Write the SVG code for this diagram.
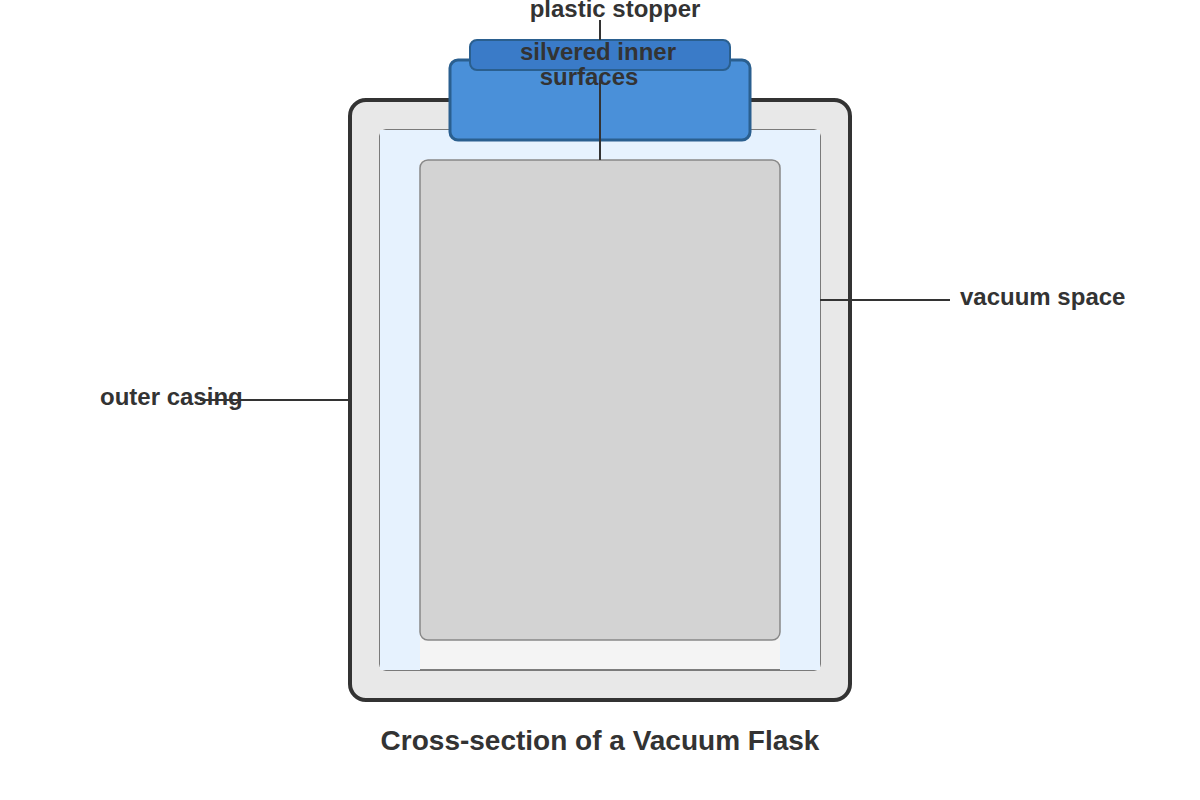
<svg xmlns="http://www.w3.org/2000/svg" width="1200" height="800" viewBox="0 0 1200 800">
<style>
.lbl{font-family:"Liberation Sans",Arial,sans-serif;font-weight:bold;font-size:24px;fill:#333}
.ln{stroke:#333;stroke-width:2;fill:none}
</style>
<rect width="1200" height="800" fill="#fff"/>
<g id="outer-casing"><rect x="350" y="100" width="500" height="600" rx="16" fill="#e8e8e8" stroke="#333" stroke-width="4"/></g>
<g id="inner-vessel"><rect x="380" y="130" width="440" height="540" rx="6" fill="#f4f4f4" stroke="#555" stroke-width="1.5"/></g>
<g id="vacuum-space" fill="#e6f2fe">
<rect x="380" y="130" width="40" height="540"/>
<rect x="780" y="130" width="40" height="540"/>
<rect x="380" y="130" width="440" height="30"/>
</g>
<g id="contents"><rect x="420" y="160" width="360" height="480" rx="8" fill="#d3d3d3" stroke="#888" stroke-width="1.5"/></g>
<g id="stopper">
<rect x="450" y="60" width="300" height="80" rx="8" fill="#4a90d9" stroke="#2a5f8f" stroke-width="3"/>
<rect x="470" y="40" width="260" height="30" rx="7" fill="#3a7bc8" stroke="#2a5f8f" stroke-width="2"/>
</g>
<g id="connectors">
<line class="ln" x1="600" y1="20" x2="600" y2="40"/>
<line class="ln" x1="600" y1="80" x2="600" y2="160"/>
<line class="ln" x1="820" y1="300" x2="950" y2="300"/>
<line class="ln" x1="200" y1="400" x2="350" y2="400"/>
</g>
<g id="labels">
<text class="lbl" x="615" y="17" text-anchor="middle">plastic stopper</text>
<text class="lbl" x="598" y="60" text-anchor="middle">silvered inner</text>
<text class="lbl" x="589" y="85" text-anchor="middle">surfaces</text>
<text class="lbl" x="960" y="305">vacuum space</text>
<text class="lbl" x="100" y="405">outer casing</text>
<text class="lbl" x="600" y="750" text-anchor="middle" style="font-size:28px">Cross-section of a Vacuum Flask</text>
</g>
</svg>
